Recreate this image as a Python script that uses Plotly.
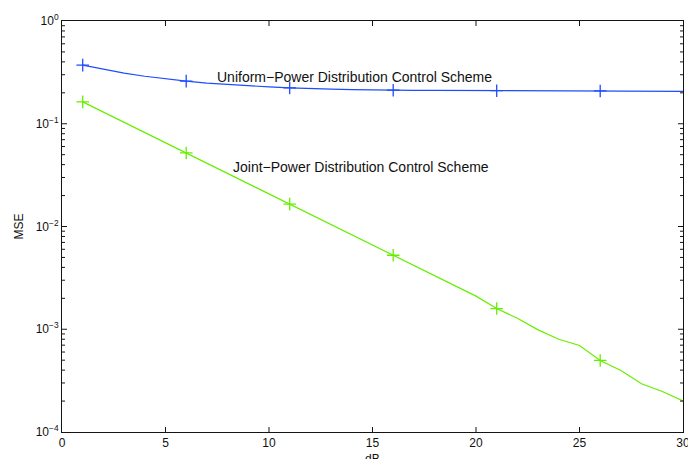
import plotly.graph_objects as go

snr_db = list(range(1, 31))
uniform_mse = [0.372, 0.338, 0.311, 0.290, 0.273, 0.260, 0.249, 0.241, 0.234, 0.228,
               0.223, 0.219, 0.217, 0.215, 0.213, 0.212, 0.2115, 0.211, 0.2105, 0.210,
               0.2098, 0.2095, 0.2093, 0.209, 0.2088, 0.2085, 0.208, 0.2075, 0.207, 0.2065]
joint_mse = [0.1633, 0.1299, 0.1033, 0.0821, 0.0653, 0.0520, 0.0413, 0.0328, 0.0261, 0.0208,
             0.01652, 0.01314, 0.01045, 0.00831, 0.00661, 0.00525, 0.00418, 0.00332, 0.00264, 0.00210,
             0.00159, 0.00128, 0.000986, 0.000800, 0.000695, 0.000497, 0.000397, 0.000295, 0.000248, 0.000201]
marker_db = [1, 6, 11, 16, 21, 26]

x_range = [0, 30]
y_range_log = [-4, 0]
x_ticks = [0, 5, 10, 15, 20, 25, 30]
y_ticks = [1e-4, 1e-3, 1e-2, 1e-1, 1]
y_ticktext = ["10<sup>−4</sup>", "10<sup>−3</sup>", "10<sup>−2</sup>", "10<sup>−1</sup>", "10<sup>0</sup>"]
y_minor = [m * 10 ** e for e in range(-4, 0) for m in range(2, 10)]

label_uniform = "Uniform−Power Distribution Control Scheme"
label_joint = "Joint−Power Distribution Control Scheme"

blue = "#1f4cff"
green = "#66ee00"
frame_col = "#141414"
FONT = "Liberation Sans, Arial, sans-serif"

W, H = 688, 459
ML, MR, MT, MB = 62, 5, 21, 27
PW, PH = W - ML - MR, H - MT - MB

fig = go.Figure()
for ys, col in [(uniform_mse, blue), (joint_mse, green)]:
    fig.add_trace(go.Scatter(x=snr_db, y=ys, mode="lines",
                             line=dict(color=col, width=1.2), showlegend=False,
                             hoverinfo="skip"))
    fig.add_trace(go.Scatter(x=marker_db, y=[ys[snr_db.index(d)] for d in marker_db],
                             mode="markers",
                             marker=dict(symbol="cross-thin", size=9,
                                         line=dict(color=col, width=1.3)),
                             showlegend=False))

# tick marks, built from the axis range and tick arrays
x0, x1 = x_range
y0, y1 = 10 ** y_range_log[0], 10 ** y_range_log[1]
xunit_per_px = (x1 - x0) / PW
dec_per_px = (y_range_log[1] - y_range_log[0]) / PH
fx, fy = [], []
for t in x_ticks[1:-1]:
    fx += [t, t, None, t, t, None]
    fy += [y0, y0 * 10 ** (5 * dec_per_px), None, y1, y1 / 10 ** (5 * dec_per_px), None]
for vals, ln in [(y_ticks[1:-1], 5), (y_minor, 3)]:
    for v in vals:
        fx += [x0, x0 + ln * xunit_per_px, None, x1, x1 - ln * xunit_per_px, None]
        fy += [v, v, None, v, v, None]
fig.add_trace(go.Scatter(x=fx, y=fy, mode="lines", line=dict(color=frame_col, width=1),
                         showlegend=False, hoverinfo="skip", connectgaps=False))

fig.add_annotation(x=14.12, y=-0.542, xref="x", yref="y", text=label_uniform,
                   showarrow=False, font=dict(size=14, color="#111", family=FONT))
fig.add_annotation(x=14.46, y=-1.417, xref="x", yref="y", text=label_joint,
                   showarrow=False, font=dict(size=14, color="#111", family=FONT))
fig.add_annotation(x=0.5, y=-26.5 / PH, xref="paper", yref="paper", text="dB",
                   showarrow=False, font=dict(size=12, color="#111", family=FONT),
                   xanchor="center", yanchor="middle")
fig.add_annotation(x=-44 / PW, y=0.5, xref="paper", yref="paper", text="MSE",
                   textangle=-90, showarrow=False,
                   font=dict(size=12, color="#111", family=FONT),
                   xanchor="center", yanchor="middle")

fig.update_layout(
    template="none",
    width=W, height=H,
    margin=dict(l=ML, r=MR, t=MT, b=MB),
    font=dict(family=FONT, size=12, color="#111"),
    xaxis=dict(range=x_range, tickvals=x_ticks, ticks="", ticklabeloverflow="allow",
               showline=True, linecolor=frame_col, linewidth=1, mirror=True,
               showgrid=False, zeroline=False),
    yaxis=dict(type="log", range=y_range_log, tickvals=y_ticks, ticktext=y_ticktext,
               ticks="", ticklabeloverflow="allow",
               showline=True, linecolor=frame_col, linewidth=1, mirror=True,
               showgrid=False, zeroline=False),
)

fig.write_html("out.html", post_script="document.body.style.margin='0';",
               config={"displayModeBar": False})
